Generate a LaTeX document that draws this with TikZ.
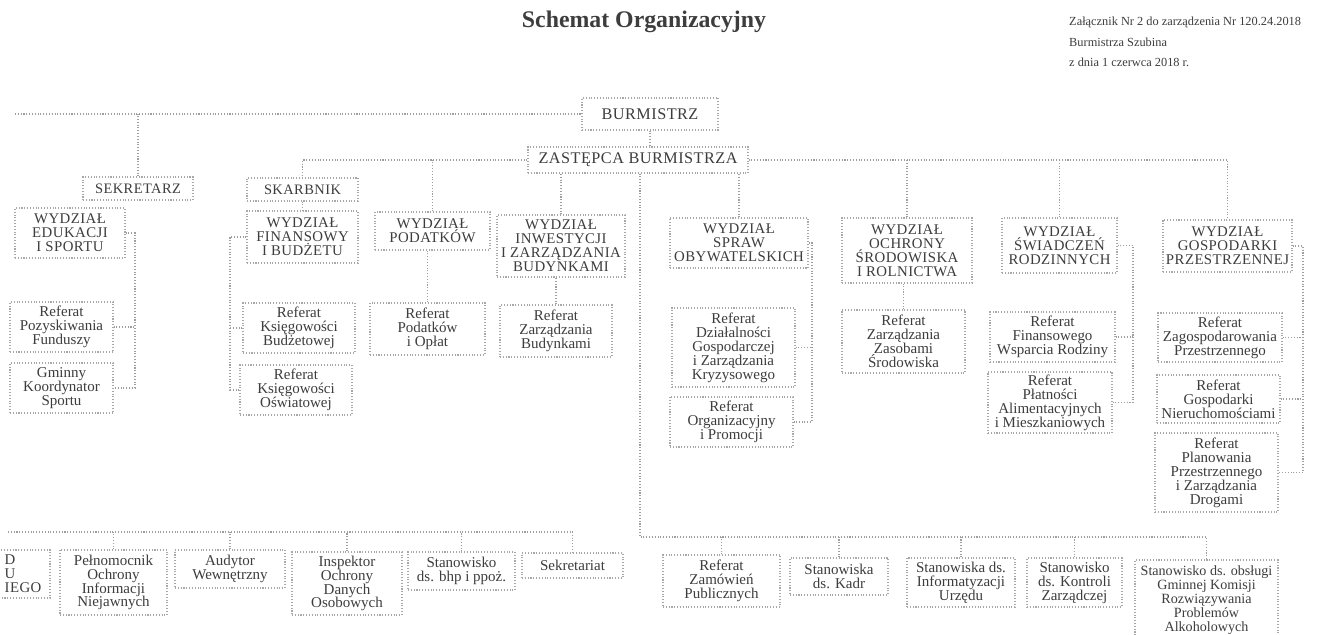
\documentclass[tikz,border=0pt]{standalone}
\usepackage{fontspec}
\setmainfont{Liberation Serif}
\newfontfamily\capsfont[LetterSpace=3]{Liberation Serif}
\definecolor{txt}{gray}{0.24}
\definecolor{boxc}{gray}{0.66}
\definecolor{linec}{gray}{0.62}
\begin{document}
\begin{tikzpicture}[x=0.56693pt,y=-0.56693pt,
  bx/.style={draw=boxc, densely dotted, line width=0.6pt, inner sep=0pt, align=center, text=txt},
  wh/.style 2 args={minimum width=#1*0.56693pt, minimum height=#2*0.56693pt},
  dep/.style={bx, font=\capsfont\fontsize{8.4}{7.9}\selectfont},
  ref/.style={bx, font=\fontsize{8.5}{7.9}\selectfont},
  top/.style={bx, font=\capsfont\fontsize{9.2}{10}\selectfont},
  mid/.style={bx, font=\capsfont\fontsize{8.2}{9}\selectfont},
  ln/.style={draw=linec, densely dotted, line width=0.6pt}]
\useasboundingbox (0,0) rectangle (1330,635);
\clip (0,0) rectangle (1330,635);
\fill[white] (0,0) rectangle (1330,635);

% title and header
\node[text=txt, font=\fontsize{13.5}{15}\selectfont\bfseries] (title) at (644,22) {Schemat Organizacyjny};
\node[text=txt, anchor=west, align=left, font=\fontsize{7}{11.6}\selectfont] (head) at (1063,42)
  {Załącznik Nr 2 do zarządzenia Nr 120.24.2018\\Burmistrza Szubina\\z dnia 1 czerwca 2018 r.};

% top level
\node[top, wh={136}{32}] (burm) at (650,114) {BURMISTRZ};
\node[top, wh={220}{26}] (zast) at (638,160) {ZASTĘPCA BURMISTRZA};
\node[mid, wh={110}{23}] (sek) at (138,188.5) {SEKRETARZ};
\node[mid, wh={111}{23}] (skarb) at (302.5,189.5) {SKARBNIK};

% departments
\node[dep, wh={110}{50}] (edu) at (70,233) {WYDZIAŁ\\EDUKACJI\\I SPORTU};
\node[dep, wh={111}{52}] (fin) at (302.5,237) {WYDZIAŁ\\FINANSOWY\\I BUDŻETU};
\node[dep, wh={115}{38}] (podat) at (432.5,231) {WYDZIAŁ\\PODATKÓW};
\node[dep, wh={128}{62}] (inw) at (561,246) {WYDZIAŁ\\INWESTYCJI\\I ZARZĄDZANIA\\BUDYNKAMI};
\node[dep, wh={138}{50}] (spraw) at (739,243) {WYDZIAŁ\\SPRAW\\OBYWATELSKICH};
\node[dep, wh={130}{65}] (ochr) at (907,250.5) {WYDZIAŁ\\OCHRONY\\ŚRODOWISKA\\I ROLNICTWA};
\node[dep, wh={115}{55}] (swiad) at (1059.5,245.5) {WYDZIAŁ\\ŚWIADCZEŃ\\RODZINNYCH};
\node[dep, wh={129}{52}] (gosp) at (1227.5,246) {WYDZIAŁ\\GOSPODARKI\\PRZESTRZENNEJ};

% referaty
\node[ref, wh={103}{50}] (pozy) at (61.5,327) {Referat\\Pozyskiwania\\Funduszy};
\node[ref, wh={103}{50}] (gmin) at (61.5,388) {Gminny\\Koordynator\\Sportu};
\node[ref, wh={112}{50}] (ksb) at (299,328) {Referat\\Księgowości\\Budżetowej};
\node[ref, wh={112}{50}] (oswi) at (296,390) {Referat\\Księgowości\\Oświatowej};
\node[ref, wh={115}{52}] (refpod) at (427.5,329) {Referat\\Podatków\\i Opłat};
\node[ref, wh={112}{52}] (rzb) at (556,331) {Referat\\Zarządzania\\Budynkami};
\node[ref, wh={123}{79}] (rdg) at (733.5,347.5) {Referat\\Działalności\\Gospodarczej\\i Zarządzania\\Kryzysowego};
\node[ref, wh={123}{50}] (rorg) at (731.5,422) {Referat\\Organizacyjny\\i Promocji};
\node[ref, wh={123}{63}] (rzz) at (903.5,341.5) {Referat\\Zarządzania\\Zasobami\\Środowiska};
\node[ref, wh={125}{50}] (rfw) at (1052.5,337) {Referat\\Finansowego\\Wsparcia Rodziny};
\node[ref, wh={124}{61}] (rpl) at (1050,402.5) {Referat\\Płatności\\Alimentacyjnych\\i Mieszkaniowych};
\node[ref, wh={124}{49}] (rzp) at (1220,337.5) {Referat\\Zagospodarowania\\Przestrzennego};
\node[ref, wh={123}{48}] (rgn) at (1218.5,399) {Referat\\Gospodarki\\Nieruchomościami};
\node[ref, wh={123}{79}] (rpp) at (1216.5,472.5) {Referat\\Planowania\\Przestrzennego\\i Zarządzania\\Drogami};

% bottom row, left
\node[dep, align=left, wh={54}{48}] (usc) at (23,574) {D\\U\\IEGO};
\node[ref, wh={107}{65}] (peln) at (113.5,582.5) {Pełnomocnik\\Ochrony\\Informacji\\Niejawnych};
\node[ref, wh={110}{38}] (aud) at (230,569) {Audytor\\Wewnętrzny};
\node[ref, wh={110}{63}] (insp) at (347,583.5) {Inspektor\\Ochrony\\Danych\\Osobowych};
\node[ref, wh={107}{38}] (bhp) at (461.5,571) {Stanowisko\\ds. bhp i ppoż.};
\node[ref, wh={101}{25}] (sekr) at (572.5,565.5) {Sekretariat};

% bottom row, right
\node[ref, wh={117}{52}] (zam) at (721.5,581) {Referat\\Zamówień\\Publicznych};
\node[ref, wh={98}{37}] (kadr) at (839,576.5) {Stanowiska\\ds. Kadr};
\node[ref, wh={108}{49}] (inf) at (961,582.5) {Stanowiska ds.\\Informatyzacji\\Urzędu};
\node[ref, wh={95}{49}] (kontr) at (1074.5,582.5) {Stanowisko\\ds. Kontroli\\Zarządczej};
\node[ref, font=\fontsize{8}{7.9}\selectfont, wh={143}{80}] (alko) at (1206.5,600) {Stanowisko ds. obsługi\\Gminnej Komisji\\Rozwiązywania\\Problemów\\Alkoholowych};

% connectors
\coordinate (lt) at (15,114);
\draw[ln] (lt) -- (burm.west);
\draw[ln] (sek.north) -- (sek.north |- burm.west);
\draw[ln] (burm.south) -- (burm.south |- zast.north);
\draw[ln] (zast.west) -| (skarb.north);
\draw[ln] (podat.north) -- (podat.north |- zast.west);
\draw[ln] (skarb.south) -- (fin.north);
\draw[ln] (inw.north) -- (inw.north |- zast.south);
\draw[ln] (spraw.north) -- (spraw.north |- zast.south);
\draw[ln] (zast.east) -| (gosp.north);
\draw[ln] (ochr.north) -- (ochr.north |- zast.east);
\draw[ln] (swiad.north) -- (swiad.north |- zast.east);

\draw[ln] (refpod.north) -- (refpod.north |- podat.south);
\draw[ln] (rzb.north) -- (rzb.north |- inw.south);
\draw[ln] (rzz.north) -- (rzz.north |- ochr.south);

\coordinate (eduR) at (135,233);
\draw[ln] (edu.east) -- (eduR) |- (gmin.east);
\draw[ln] (pozy.east) -- (pozy.east -| eduR);

\coordinate (finL) at (230,237);
\draw[ln] (fin.west) -- (finL) |- (oswi.west);
\draw[ln] (ksb.west) -- (ksb.west -| finL);

\coordinate (sprR) at (812,243);
\draw[ln] (spraw.east) -- (sprR) |- (rorg.east);
\draw[ln] (rdg.east) -- (rdg.east -| sprR);

\coordinate (swR) at (1133,245.5);
\draw[ln] (swiad.east) -- (swR) |- (rpl.east);
\draw[ln] (rfw.east) -- (rfw.east -| swR);

\coordinate (gpR) at (1303,246);
\draw[ln] (gosp.east) -- (gpR) |- (rpp.east);
\draw[ln] (rzp.east) -- (rzp.east -| gpR);
\draw[ln] (rgn.east) -- (rgn.east -| gpR);

\coordinate (midb) at (640,537);
\draw[ln] (midb |- zast.south) -- (midb) -| (alko.north);
\foreach \n in {zam,kadr,inf,kontr} \draw[ln] (\n.north) -- (\n.north |- midb);

\coordinate (bl) at (8,532);
\draw[ln] (bl) -| (sekr.north);
\foreach \n in {peln,aud,insp,bhp} \draw[ln] (\n.north) -- (\n.north |- bl);
\end{tikzpicture}
\end{document}
